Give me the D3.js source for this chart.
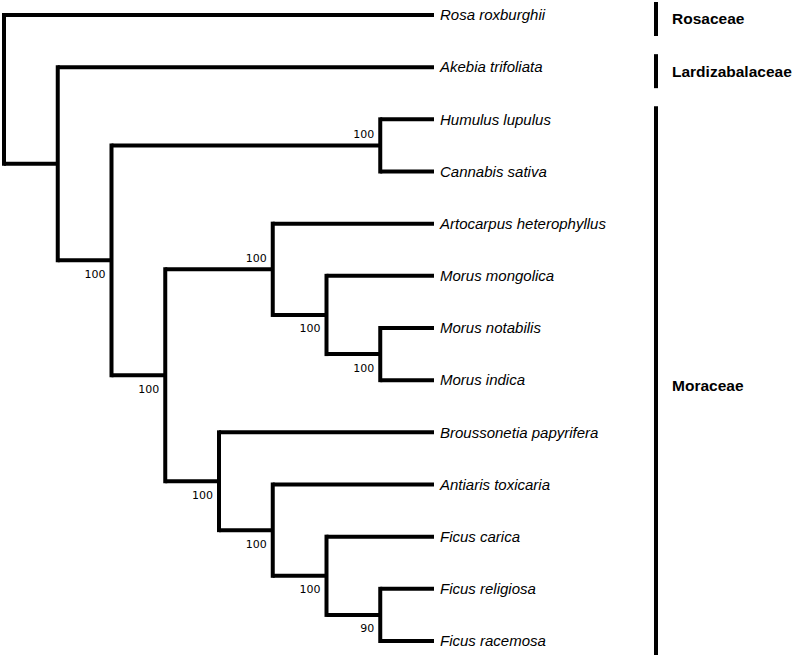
<!DOCTYPE html>
<html>
<head>
<meta charset="utf-8">
<script src="https://cdn.jsdelivr.net/npm/d3@7"></script>
<style>
  body { margin: 0; background: #fff; }
  svg { display: block; }
</style>
</head>
<body>
<script>
// tree topology: node ids, their parents and bootstrap support (null = none)
var nodeIds = ["root", "Rosa roxburghii", "n1", "Akebia trifoliata", "n2",
  "n3", "Humulus lupulus", "Cannabis sativa",
  "n4", "n5", "Artocarpus heterophyllus", "n6", "Morus mongolica", "n7", "Morus notabilis", "Morus indica",
  "n8", "Broussonetia papyrifera", "n9", "Antiaris toxicaria", "n10", "Ficus carica", "n11", "Ficus religiosa", "Ficus racemosa"];
var parentIds = [null, "root", "root", "n1", "n1",
  "n2", "n3", "n3",
  "n2", "n4", "n5", "n5", "n6", "n6", "n7", "n7",
  "n4", "n8", "n8", "n9", "n9", "n10", "n10", "n11", "n11"];
var supportValues = [null, null, null, null, 100,
  100, null, null,
  100, 100, null, 100, null, 100, null, null,
  100, null, 100, null, 100, null, 90, null, null];

// family brackets on the right
var familyNames = ["Rosaceae", "Lardizabalaceae", "Moraceae"];
var familyFirst = ["Rosa roxburghii", "Akebia trifoliata", "Humulus lupulus"];
var familyLast = ["Rosa roxburghii", "Akebia trifoliata", "Ficus racemosa"];

var width = 794, height = 660;

var svg = d3.select("body").append("svg")
    .attr("width", width)
    .attr("height", height);

var table = nodeIds.map(function(id, i) {
    return {id: id, parent: parentIds[i], support: supportValues[i]};
});

var root = d3.stratify()
    .id(function(d) { return d.id; })
    .parentId(function(d) { return d.parent; })(table);

d3.cluster().nodeSize([1, 1]).separation(function() { return 1; })(root);

var leaves = root.leaves();

var yScale = d3.scaleLinear()
    .domain(d3.extent(leaves, function(d) { return d.x; }))
    .range([15, 641]);

var xScale = d3.scaleLinear()
    .domain([0, d3.max(leaves, function(d) { return d.y; })])
    .range([4, 434]);

var branches = svg.append("g")
    .attr("stroke", "#000")
    .attr("stroke-width", 4);

// vertical bar of each internal node, spanning its children
branches.selectAll("line.v")
    .data(root.descendants().filter(function(d) { return d.children; }))
    .enter()
    .append("line")
    .attr("class", "v")
    .attr("x1", function(d) { return xScale(d.y); })
    .attr("x2", function(d) { return xScale(d.y); })
    .attr("y1", function(d) { return yScale(d.children[0].x); })
    .attr("y2", function(d) { return yScale(d.children[d.children.length - 1].x); })
    .attr("stroke-linecap", "square");

// horizontal branch from parent to each node
branches.selectAll("line.h")
    .data(root.links())
    .enter()
    .append("line")
    .attr("class", "h")
    .attr("x1", function(l) { return xScale(l.source.y); })
    .attr("x2", function(l) { return xScale(l.target.y); })
    .attr("y1", function(l) { return yScale(l.target.x); })
    .attr("y2", function(l) { return yScale(l.target.x); });

// leaf names
svg.append("g")
    .selectAll("text")
    .data(leaves)
    .enter()
    .append("text")
    .attr("x", function(d) { return xScale(d.y) + 6; })
    .attr("y", function(d) { return yScale(d.x); })
    .attr("dy", "0.35em")
    .style("font-family", "'Liberation Sans', Arial, sans-serif")
    .style("font-style", "italic")
    .style("font-size", "15px")
    .text(function(d) { return d.id; });

// bootstrap values: above the branch for an upper child, below otherwise
svg.append("g")
    .selectAll("text")
    .data(root.descendants().filter(function(d) { return d.data.support != null; }))
    .enter()
    .append("text")
    .attr("x", function(d) { return xScale(d.y) - 6; })
    .attr("y", function(d) {
        var upper = d.parent.children[0] === d;
        return yScale(d.x) + (upper ? -7 : 17.5);
    })
    .attr("text-anchor", "end")
    .style("font-family", "'DejaVu Sans', Verdana, sans-serif")
    .style("font-size", "11px")
    .text(function(d) { return d.data.support; });

// family bars and names
var leafY = {};
leaves.forEach(function(d) { leafY[d.id] = yScale(d.x); });

var fam = svg.append("g")
    .selectAll("g")
    .data(familyNames)
    .enter()
    .append("g");

fam.append("line")
    .attr("x1", 656).attr("x2", 656)
    .attr("y1", function(d, i) { return leafY[familyFirst[i]] - 13; })
    .attr("y2", function(d, i) { return leafY[familyLast[i]] + (familyFirst[i] === familyLast[i] ? 21 : 14); })
    .attr("stroke", "#000")
    .attr("stroke-width", 4);

fam.append("text")
    .attr("x", 672)
    .attr("y", function(d, i) {
        var a = leafY[familyFirst[i]], b = leafY[familyLast[i]];
        return (a + b) / 2 + (a === b ? 4 : 5);
    })
    .attr("dy", "0.35em")
    .style("font-family", "'Liberation Sans', Arial, sans-serif")
    .style("font-weight", "bold")
    .style("font-size", "15.5px")
    .text(function(d) { return d; });
</script>
</body>
</html>
